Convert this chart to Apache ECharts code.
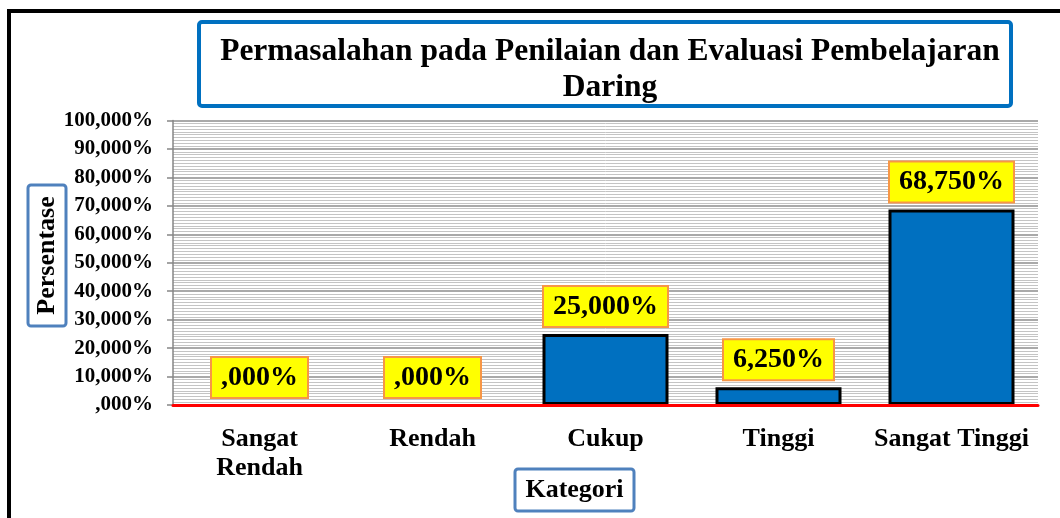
<!DOCTYPE html>
<html>
<head>
<meta charset="utf-8">
<script src="https://cdn.jsdelivr.net/npm/echarts@6/dist/echarts.min.js"></script>
<style>
html,body{margin:0;padding:0;background:#fff;}
#chart{width:1060px;height:518px;}
</style>
</head>
<body>
<div id="chart"></div>
<script>
const categories = ['Sangat\nRendah', 'Rendah', 'Cukup', 'Tinggi', 'Sangat Tinggi'];
const values = [0, 0, 25, 6.25, 68.75];
const titleLines = ['Permasalahan pada Penilaian dan Evaluasi Pembelajaran', 'Daring'];
const yName = 'Persentase';
const xName = 'Kategori';

const SERIF = "'Liberation Serif','Times New Roman',serif";
function fmt(v) {
  if (v === 0) return ',000%';
  return v.toFixed(3).replace('.', ',') + '%';
}

const chart = echarts.init(document.getElementById('chart'));
chart.setOption({
  animation: false,
  backgroundColor: '#fff',
  title: {
    text: titleLines.join('\n'),
    left: 605, top: 29, textAlign: 'center',
    textStyle: { fontFamily: SERIF, fontWeight: 'bold', fontSize: 31.5, lineHeight: 36, color: '#000' }
  },
  grid: { left: 173, right: 22, top: 120.5, bottom: 113 },
  xAxis: {
    type: 'category',
    data: categories,
    z: 5,
    axisLine: { show: true, lineStyle: { color: '#FF0000', width: 3 } },
    axisTick: { show: false },
    splitLine: { show: false },
    axisLabel: { margin: 20, interval: 0, fontFamily: SERIF, fontWeight: 'bold', fontSize: 26, lineHeight: 29, color: '#000' }
  },
  yAxis: {
    type: 'value', min: 0, max: 100, interval: 10,
    axisLine: { show: true, lineStyle: { color: '#868686', width: 1.5 } },
    axisTick: { show: true, length: 6, lineStyle: { color: '#868686', width: 1.5 } },
    minorTick: { show: false, splitNumber: 10 },
    splitLine: { show: true, lineStyle: { color: '#8C8C8C', width: 1.5 } },
    minorSplitLine: { show: true, lineStyle: { color: '#C4C4C4', width: 1 } },
    axisLabel: { margin: 20, formatter: fmt, fontFamily: SERIF, fontWeight: 'bold', fontSize: 21, color: '#000' }
  },
  series: [{
    type: 'bar',
    barWidth: 126,
    data: values.map(v => ({ value: v, itemStyle: { borderWidth: v === 0 ? 0 : 3 } })),
    itemStyle: { color: '#0070C0', borderColor: '#000', borderWidth: 3 },
    label: {
      show: true, position: 'top', distance: 8,
      formatter: p => fmt(p.value),
      fontFamily: SERIF, fontWeight: 'bold', fontSize: 28, lineHeight: 29, color: '#000',
      backgroundColor: '#FFFF00', borderColor: '#F79646', borderWidth: 2,
      padding: [5, 9]
    }
  }],
  graphic: [
    { type: 'rect', z: 100, shape: { x: 9, y: 11, width: 1200, height: 700 }, style: { fill: 'none', stroke: '#000', lineWidth: 4 } },
    { type: 'rect', z: 100, shape: { x: 199, y: 22, width: 812, height: 84, r: 3 }, style: { fill: 'none', stroke: '#0070C0', lineWidth: 4 } },
    { type: 'rect', z: 100, shape: { x: 28, y: 185, width: 38, height: 141, r: 3 }, style: { fill: '#fff', stroke: '#4F81BD', lineWidth: 3 } },
    { type: 'text', z: 101, x: 47, y: 255.5, rotation: Math.PI / 2,
      style: { text: yName, font: "bold 26px 'Liberation Serif','Times New Roman',serif", fill: '#000', align: 'center', verticalAlign: 'middle' } },
    { type: 'rect', z: 100, shape: { x: 515, y: 469, width: 119, height: 42, r: 3 }, style: { fill: '#fff', stroke: '#4F81BD', lineWidth: 3 } },
    { type: 'text', z: 101, x: 574.5, y: 490, 
      style: { text: xName, font: "bold 26px 'Liberation Serif','Times New Roman',serif", fill: '#000', align: 'center', verticalAlign: 'middle' } }
  ]
});
</script>
</body>
</html>
